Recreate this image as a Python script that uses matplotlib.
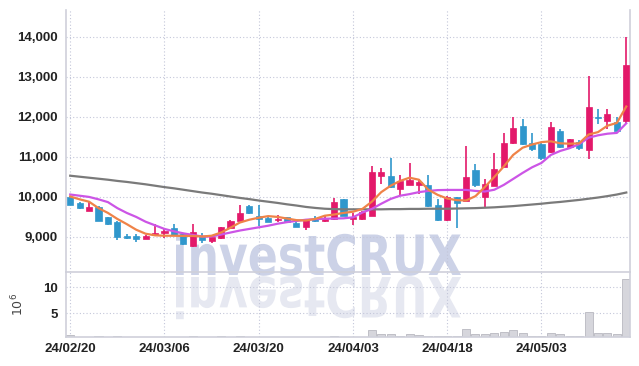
import numpy as np
import matplotlib
matplotlib.use('Agg')
import matplotlib.pyplot as plt
import matplotlib.transforms as mtransforms
from matplotlib.textpath import TextPath
from matplotlib.patches import PathPatch
from matplotlib.font_manager import FontProperties

# trading days
dates = ['24/02/20', '24/02/21', '24/02/22', '24/02/23', '24/02/26', '24/02/27', '24/02/28', '24/02/29',
         '24/03/04', '24/03/05', '24/03/06', '24/03/07', '24/03/08', '24/03/11', '24/03/12', '24/03/13',
         '24/03/14', '24/03/15', '24/03/18', '24/03/19', '24/03/20', '24/03/21', '24/03/22', '24/03/25',
         '24/03/26', '24/03/27', '24/03/28', '24/03/29', '24/04/01', '24/04/02', '24/04/03', '24/04/04',
         '24/04/05', '24/04/08', '24/04/09', '24/04/11', '24/04/12', '24/04/15', '24/04/16', '24/04/17',
         '24/04/18', '24/04/19', '24/04/22', '24/04/23', '24/04/24', '24/04/25', '24/04/26', '24/04/29',
         '24/04/30', '24/05/02', '24/05/03', '24/05/07', '24/05/08', '24/05/09', '24/05/10', '24/05/13',
         '24/05/14', '24/05/16', '24/05/17', '24/05/20']

opens = [10010, 9840, 9660, 9760, 9500, 9380, 9030, 9020, 8960, 9040,
         9090, 9220, 9080, 8780, 9025, 8910, 8970, 9220, 9410, 9775,
         9525, 9465, 9425, 9490, 9360, 9240, 9450, 9395, 9440, 9950,
         9445, 9440, 9530, 10535, 10535, 10200, 10300, 10300, 10300, 9800,
         9425, 9990, 9910, 10675, 10010, 10285, 10760, 11340, 11775, 11340,
         11325, 11130, 11660, 11240, 11380, 11175, 12010, 11910, 11880, 11910]
highs = [10030, 9880, 9910, 9770, 9510, 9390, 9080, 9070, 9040, 9320,
         9210, 9320, 9090, 9320, 9100, 9030, 9260, 9430, 9800, 9790,
         9800, 9530, 9560, 9500, 9380, 9440, 9530, 9530, 9985, 9960,
         9600, 9650, 10775, 10725, 10970, 10550, 10860, 10460, 10560, 9950,
         10030, 10010, 11275, 10825, 10440, 11110, 11610, 11990, 11940, 11610,
         11370, 11880, 11700, 11450, 11420, 13010, 12210, 12190, 11990, 13990]
lows = [9790, 9700, 9650, 9400, 9300, 8930, 8960, 8880, 8940, 9030,
        8970, 9040, 8800, 8740, 8840, 8840, 8950, 9200, 9400, 9580,
        9275, 9370, 9380, 9370, 9240, 9170, 9380, 9370, 9430, 9515,
        9310, 9430, 9520, 10330, 10230, 10020, 10290, 10070, 9760, 9410,
        9410, 9220, 9900, 10240, 9740, 10270, 10740, 11320, 11300, 11160,
        10920, 11100, 11220, 11230, 11180, 10940, 11820, 11710, 11640, 11860]
closes = [9800, 9720, 9760, 9410, 9330, 9010, 8985, 8960, 9025, 9110,
          9150, 9050, 8820, 9130, 8925, 9010, 9240, 9410, 9610, 9590,
          9445, 9385, 9450, 9385, 9260, 9425, 9400, 9440, 9875, 9525,
          9500, 9630, 10625, 10625, 10245, 10410, 10425, 10385, 9775, 9425,
          10010, 9840, 10510, 10300, 10325, 10690, 11340, 11720, 11325, 11190,
          10970, 11740, 11240, 11440, 11220, 12240, 11970, 12075, 11660, 13300]

ma_short = [10010, 9940, 9880, 9720, 9600, 9450, 9320, 9180, 9080, 9040,
            9030, 9030, 9025, 9025, 9010, 9030, 9110, 9230, 9360, 9430,
            9480, 9520, 9500, 9460, 9420, 9410, 9450, 9530, 9560, 9600,
            9630, 9700, 9880, 10120, 10280, 10400, 10480, 10430, 10180, 10050,
            9960, 9920, 9910, 10020, 10250, 10500, 10760, 11050, 11230, 11310,
            11370, 11390, 11340, 11330, 11340, 11560, 11620, 11780, 11850, 12260]
ma_mid = [10060, 10030, 10000, 9940, 9870, 9720, 9600, 9500, 9380, 9290,
          9200, 9140, 9090, 9050, 9010, 9010, 9060, 9110, 9160, 9200,
          9240, 9280, 9330, 9370, 9400, 9430, 9445, 9455, 9460, 9465,
          9490, 9610, 9700, 9830, 9950, 10030, 10070, 10120, 10150, 10170,
          10175, 10175, 10175, 10150, 10135, 10180, 10300, 10450, 10600, 10740,
          10850, 11050, 11150, 11220, 11320, 11480, 11540, 11580, 11600, 11840]
ma_long = [10530, 10505, 10480, 10455, 10430, 10400, 10375, 10345, 10315, 10280,
           10245, 10215, 10180, 10145, 10110, 10080, 10045, 10010, 9975, 9945,
           9910, 9880, 9850, 9815, 9785, 9750, 9725, 9705, 9695, 9690,
           9690, 9690, 9690, 9690, 9695, 9695, 9700, 9700, 9705, 9705,
           9705, 9710, 9715, 9720, 9730, 9740, 9755, 9770, 9790, 9810,
           9830, 9855, 9875, 9900, 9925, 9955, 9985, 10020, 10060, 10110]

# volume in millions
volume = [0.8, 0.3, 0.3, 0.7, 0.3, 0.7, 0.3, 0.3, 0.3, 0.3,
          0.3, 0.3, 0.3, 0.7, 0.3, 0.3, 0.7, 0.3, 0.7, 0.3,
          0.3, 0.3, 0.3, 0.3, 0.3, 0.3, 0.3, 0.3, 0.7, 0.3,
          0.3, 0.3, 1.7, 0.95, 0.9, 0.7, 0.9, 0.75, 0.7, 0.7,
          0.7, 0.7, 2.0, 0.9, 0.9, 1.1, 1.3, 1.8, 1.1, 0.7,
          0.7, 1.1, 0.9, 0.7, 0.7, 5.2, 1.1, 1.1, 0.9, 11.6]

RED = '#e3196a'
BLUE = '#3097cc'
GRID = '#c3c6d9'
SPINE = '#cfd0da'
fam = ['Liberation Sans', 'DejaVu Sans']

x = np.arange(len(dates))
o = np.array(opens)
c = np.array(closes)
up = c >= o
cols = np.where(up, RED, BLUE)

fig = plt.figure(figsize=(6.39, 3.66), dpi=100)
fig.patch.set_facecolor('white')

# watermark behind the axes
fp = FontProperties(family=['DejaVu Sans'], weight='bold')
tp = TextPath((0, 0), 'investCRUX', size=60, prop=fp)
bb = tp.get_extents()
sx = 285 / bb.width
sy = 43 / bb.height
x0 = 176 - bb.x0 * sx
base = 366 - 275
wm = PathPatch(tp, facecolor='#ccd2e7', edgecolor='none', zorder=-5,
               transform=mtransforms.Affine2D().scale(sx, sy).translate(x0, base))
wm_r = PathPatch(tp, facecolor='#e6e8f1', edgecolor='none', zorder=-5,
                 transform=mtransforms.Affine2D().scale(sx, -sy).translate(x0, base - 2))
fig.add_artist(wm)
fig.add_artist(wm_r)

ax = fig.add_axes([0.104, 0.257, 0.882, 0.716])
axv = fig.add_axes([0.104, 0.079, 0.882, 0.178], sharex=ax)
for a in (ax, axv):
    a.set_facecolor('none')
    a.grid(True, color=GRID, linestyle=(0, (1, 2)), linewidth=0.8)
    a.set_axisbelow(True)
    a.tick_params(length=0, labelsize=9.5)
    for s in a.spines.values():
        s.set_color(SPINE)
        s.set_linewidth(1.2)
    a.spines['top'].set_visible(False)

# candles
ax.vlines(x, lows, highs, colors=cols, linewidth=1.2, zorder=2)
body = np.where(np.abs(c - o) < 20, 20, c - o)
ax.bar(x, body, bottom=o, width=0.65, color=cols, edgecolor=cols, linewidth=0.5, zorder=3)

ax.plot(x, ma_long, color='#7a7a7a', linewidth=1.6, zorder=4)
ax.plot(x, ma_mid, color='#cc55e6', linewidth=1.6, zorder=4)
ax.plot(x, ma_short, color='#ef8348', linewidth=1.6, zorder=4)

ax.set_ylim(8125, 14675)
ax.set_yticks([9000, 10000, 11000, 12000, 13000, 14000])
ax.set_yticklabels(['9,000', '10,000', '11,000', '12,000', '13,000', '14,000'],
                   family=fam, weight='bold', color='#222222')
ax.tick_params(axis='x', labelbottom=False)
ax.tick_params(axis='y', pad=6)

axv.bar(x, volume, width=0.85, color='#d6d6dc', edgecolor='#b8b8c0', linewidth=0.6, zorder=2)
axv.set_ylim(0.4, 12.9)
axv.set_yticks([5, 10])
axv.set_yticklabels(['5', '10'], family=fam, weight='bold', color='#222222')
axv.tick_params(axis='y', pad=6)
axv.set_ylabel('$10^6$', fontsize=9, color='#444444', labelpad=12)

tick_pos = x[::10]
axv.set_xticks(tick_pos)
axv.set_xticklabels([dates[i] for i in tick_pos], family=fam, weight='bold', color='#222222')
axv.tick_params(axis='x', pad=4)
axv.set_xlim(-0.4, len(dates) - 0.6)

fig.savefig('out.png', dpi=100, facecolor='white')
